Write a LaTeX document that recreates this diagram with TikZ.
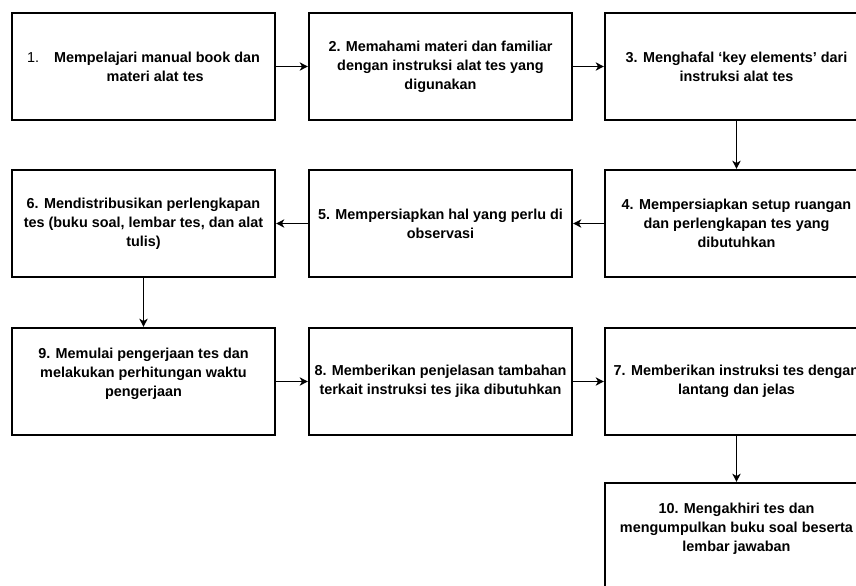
\documentclass[tikz,border=0pt]{standalone}
\usepackage{fontspec}
\setmainfont{Liberation Sans}
\usetikzlibrary{arrows.meta}

\tikzset{
  stepbox/.style={draw, line width=1.8pt, minimum width=7.89cm, minimum height=3.21cm,
    inner sep=2pt, align=center, font=\fontsize{12.3}{16.2}\selectfont\bfseries},
  flow/.style={line width=1.5pt, -{Stealth[length=7pt,width=7pt,inset=2pt]}}
}

\begin{document}
\begin{tikzpicture}[x=0.03cm,y=-0.03cm]
\clip (0,0) rectangle (856,586);
% row 1
\node[stepbox] (s1) at (143.5,66.5) {{\mdseries 1.}\hspace{0.45cm}Mempelajari manual book dan\\\hspace*{0.7cm}materi alat tes};
\node[stepbox] (s2) at (440.5,66.5) {2. Memahami materi dan familiar\\dengan instruksi alat tes yang\\digunakan};
\node[stepbox] (s3) at (736.5,66.5) {3. Menghafal ‘key elements’ dari\\instruksi alat tes};
% row 2
\node[stepbox] (s4) at (736.5,223.5) {4. Mempersiapkan setup ruangan\\dan perlengkapan tes yang\\dibutuhkan};
\node[stepbox] (s5) at (440.5,223.5) {5. Mempersiapkan hal yang perlu di\\observasi};
\node[stepbox] (s6) at (143.5,223.5) {6. Mendistribusikan perlengkapan\\tes (buku soal, lembar tes, dan alat\\tulis)};
% row 3
\node[stepbox] (s9) at (143.5,381.5) {9. Memulai pengerjaan tes dan\\melakukan perhitungan waktu\\pengerjaan\\{}};
\node[stepbox] (s8) at (440.5,381.5) {8. Memberikan penjelasan tambahan\\terkait instruksi tes jika dibutuhkan};
\node[stepbox] (s7) at (736.5,381.5) {7. Memberikan instruksi tes dengan\\lantang dan jelas};
% row 4
\node[stepbox] (s10) at (736.5,536.5) {10. Mengakhiri tes dan\\mengumpulkan buku soal beserta\\lembar jawaban\\{}};
% arrows
\draw[flow] (s1) -- (s2);
\draw[flow] (s2) -- (s3);
\draw[flow] (s3) -- (s4);
\draw[flow] (s4) -- (s5);
\draw[flow] (s5) -- (s6);
\draw[flow] (s6) -- (s9);
\draw[flow] (s9) -- (s8);
\draw[flow] (s8) -- (s7);
\draw[flow] (s7) -- (s10);
\end{tikzpicture}
\end{document}
